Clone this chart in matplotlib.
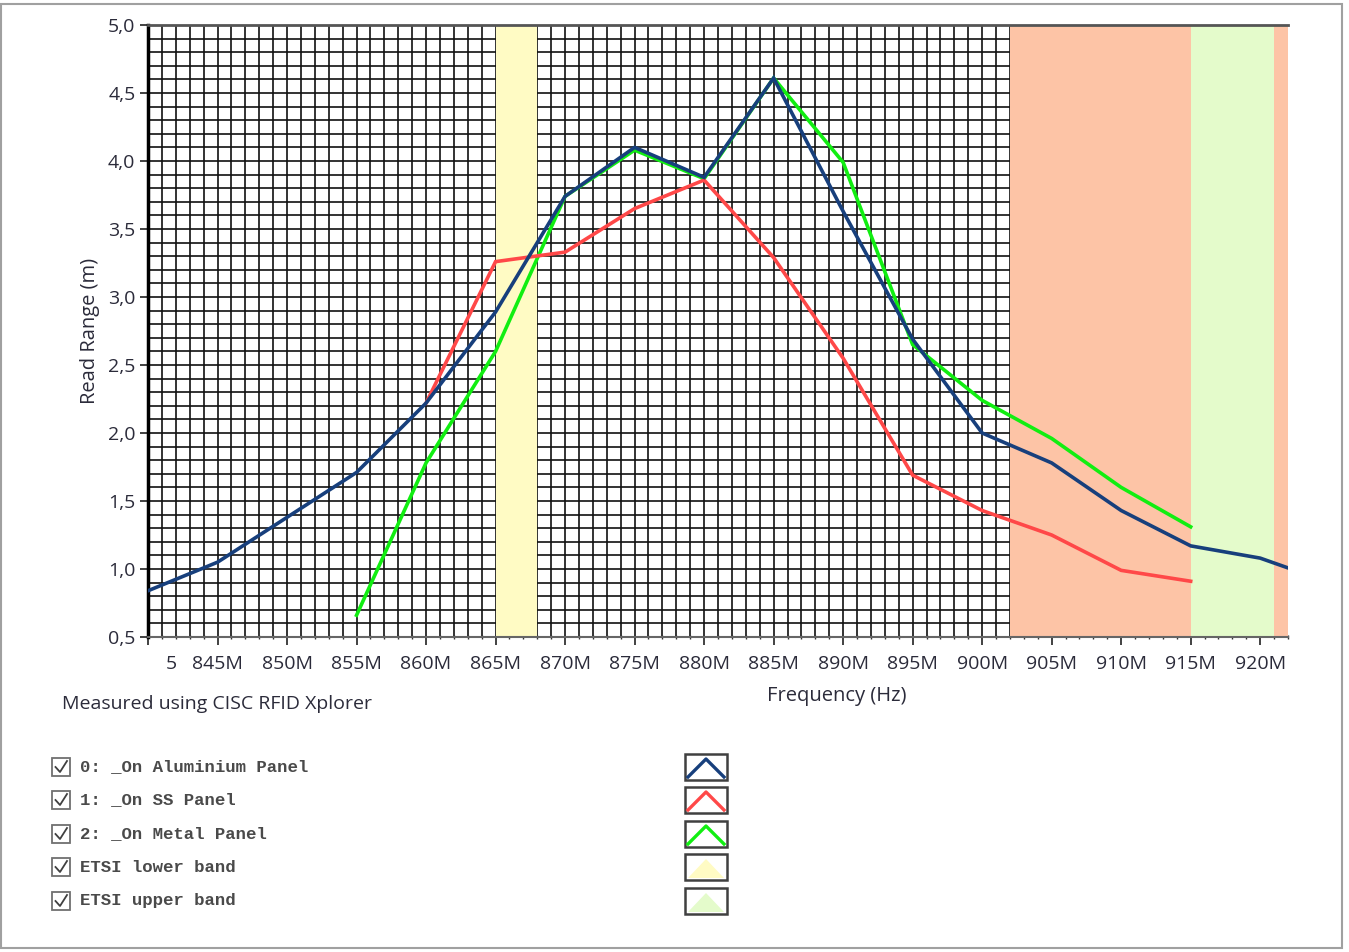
import matplotlib.pyplot as plt
from matplotlib.patches import Rectangle, Polygon
from matplotlib.ticker import MultipleLocator
import numpy as np

# frequencies in MHz
freq_alu = [840, 845, 850, 855, 860, 865, 870, 875, 880, 885, 890, 895, 900, 905, 910, 915, 920, 925]
range_alu = [0.84, 1.05, 1.38, 1.71, 2.22, 2.89, 3.74, 4.10, 3.88, 4.61, 3.63, 2.69, 2.00, 1.78, 1.43, 1.17, 1.08, 0.90]

freq_ss = [860, 865, 870, 875, 880, 885, 890, 895, 900, 905, 910, 915]
range_ss = [2.22, 3.26, 3.33, 3.65, 3.86, 3.29, 2.55, 1.69, 1.43, 1.25, 0.99, 0.91]

freq_metal = [855, 860, 865, 870, 875, 880, 885, 890, 895, 900, 905, 910, 915]
range_metal = [0.66, 1.78, 2.60, 3.74, 4.08, 3.87, 4.61, 3.99, 2.65, 2.24, 1.96, 1.60, 1.31]

etsi_lower = (865, 868)
etsi_upper = (915, 921)
fcc_band = (902, 922)

series = [
    ("0: _On Aluminium Panel", freq_alu, range_alu, "#173f7c"),
    ("1: _On SS Panel", freq_ss, range_ss, "#ff4848"),
    ("2: _On Metal Panel", freq_metal, range_metal, "#11ee11"),
]
bands = [
    ("ETSI lower band", etsi_lower, "#fffbc4"),
    ("ETSI upper band", etsi_upper, "#e4fbcb"),
]

xticks = list(range(840, 925, 5))
xticklabels = [""] + [f"{v}M" for v in xticks[1:]]
yticks = np.arange(0.5, 5.01, 0.5)

txt = "#2b2b3a"
fig = plt.figure(figsize=(13.49, 9.52), dpi=100)
ax = fig.add_axes([148 / 1349, 1 - 637 / 952, 1140 / 1349, 612 / 952])

ax.set_xlim(840, 922)
ax.set_ylim(0.5, 5.0)

# grid (only visible in the open part; bands cover it)
ax.xaxis.set_minor_locator(MultipleLocator(1))
ax.yaxis.set_minor_locator(MultipleLocator(0.1))
ax.grid(which="both", color="#111111", linewidth=1.2)
ax.set_axisbelow(True)

ax.axvspan(*fcc_band, color="#fdc4a6", lw=0, zorder=1)
for name, (lo, hi), col in bands:
    ax.axvspan(lo, hi, color=col, lw=0, zorder=1.1)

for name, f, r, col in series[::-1]:
    ax.plot(f, r, color=col, lw=2.6, zorder=3, solid_joinstyle="miter")

ax.set_xticks(xticks)
ax.set_xticklabels(xticklabels)
ax.set_yticks(yticks)
ax.set_yticklabels([f"{v:.1f}".replace(".", ",") for v in yticks])
ax.tick_params(which="major", length=6, width=1.3, color="#333333", labelsize=14,
               labelcolor=txt)
ax.tick_params(axis="x", which="major", pad=7)
ax.tick_params(axis="y", which="major", pad=3)
ax.tick_params(axis="x", which="minor", length=3, width=1, color="#333333", direction="inout")
ax.tick_params(axis="y", which="minor", length=0)
for lab in ax.get_xticklabels() + ax.get_yticklabels():
    lab.set_fontfamily("Open Sans")
ax.annotate("5", xy=(841.7, 0), xycoords=("data", "axes fraction"), xytext=(0, -13),
            textcoords="offset points", ha="center", va="top", fontsize=14, color=txt,
            family="Open Sans")

ax.spines["right"].set_visible(False)
ax.spines["left"].set_linewidth(2.5)
ax.spines["left"].set_color("black")
ax.spines["top"].set_linewidth(2)
ax.spines["top"].set_color("#555555")
ax.spines["bottom"].set_linewidth(1.5)
ax.spines["bottom"].set_color("#666666")

ax.set_ylabel("Read Range (m)", fontsize=14.5, color=txt, family="Open Sans", labelpad=6)
ax.set_xlabel("Frequency (Hz)", fontsize=14.5, color=txt, family="Open Sans")
ax.xaxis.set_label_coords(0.604, -0.08)

# overlay in pixel coords for caption and legend
ov = fig.add_axes([0, 0, 1, 1], zorder=5)
ov.set_xlim(0, 1349)
ov.set_ylim(952, 0)
ov.axis("off")
ov.patch.set_alpha(0)

ov.add_patch(Rectangle((1, 4), 1341, 944, fill=False, ec="#a0a0a0", lw=1.5))
ov.text(62, 704, "Measured using CISC RFID Xplorer", fontsize=14, color=txt,
        family="Open Sans", va="center", ha="left")

rows_y = [767, 800, 834, 867, 901]
labels = [s[0] for s in series] + [b[0] for b in bands]
for yy, lab in zip(rows_y, labels):
    ov.add_patch(Rectangle((52, yy - 9), 18, 18, fill=False, ec="#707070", lw=1.3))
    ov.plot([55.5, 60, 67], [yy, yy + 5, yy - 6], color="#404040", lw=1.3)
    ov.text(80, yy, lab, fontsize=12.5, family="Liberation Mono", fontweight="bold",
            color="#4a4a4a", va="center", ha="left")

for yy, (name, f, r, col) in zip(rows_y, series):
    ov.add_patch(Rectangle((685, yy - 13), 42, 26, fill=False, ec="#404040", lw=1.8))
    ov.plot([688, 706, 724], [yy + 10, yy - 8, yy + 10], color=col, lw=2.4)
for yy, (name, b, col) in zip(rows_y[3:], bands):
    ov.add_patch(Rectangle((685, yy - 13), 42, 26, fill=False, ec="#404040", lw=1.8))
    ov.add_patch(Polygon([(688, yy + 11), (706, yy - 8), (724, yy + 11)], closed=True,
                         fc=col, ec="none"))

fig.savefig("out.png", dpi=100)
